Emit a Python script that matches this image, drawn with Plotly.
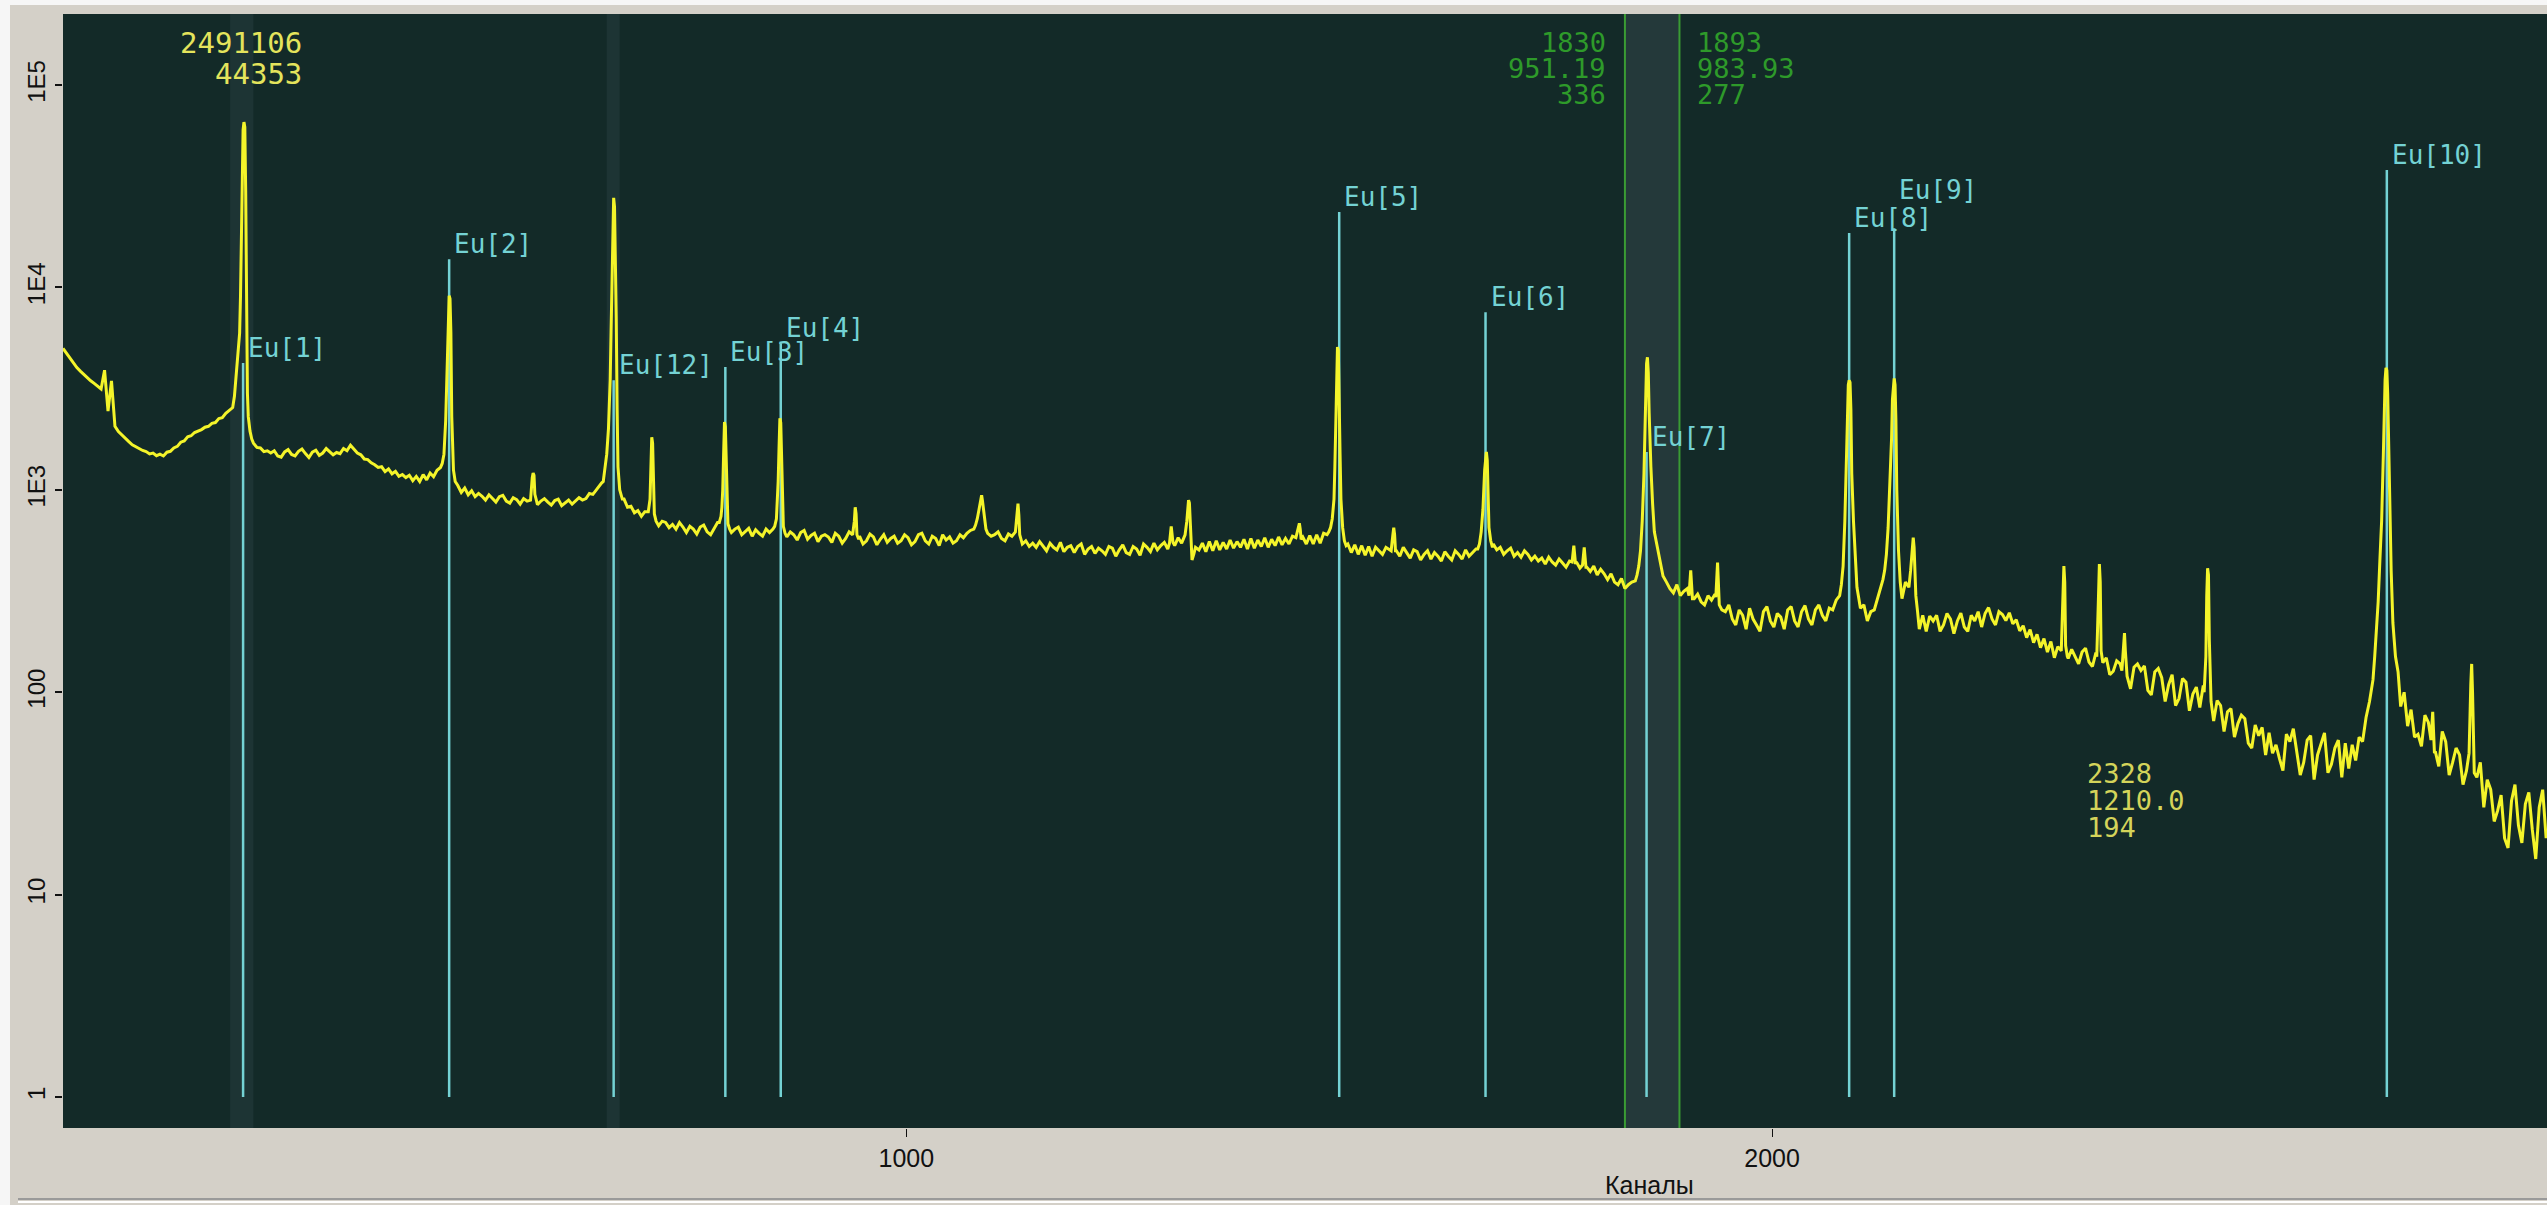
import math
import plotly.graph_objects as go

# ---------------- data ----------------
# continuum counts, every 4 channels, each row keyed by its first channel
cont_step = 4
continuum_rows = {
    26: [5000, 4720, 4460, 4230, 4020, 3860, 3710, 3570, 3460, 3360, 3260, 3150, 3900, 2450, 3450, 2060, 1940, 1860, 1790, 1730],
    106: [1670, 1630, 1600, 1565, 1545, 1505, 1520, 1475, 1500, 1470, 1535, 1550, 1610, 1640, 1720, 1745, 1830, 1850, 1920, 1950],
    186: [1985, 2040, 2060, 2130, 2150, 2250, 2270, 2390, 2460, 2550, 3600, 5950, 60000, 2300, 1950, 1710, 1620, 1610, 1545, 1560],
    266: [1520, 1560, 1470, 1450, 1540, 1580, 1495, 1470, 1550, 1590, 1510, 1445, 1535, 1570, 1480, 1520, 1600, 1545, 1490, 1530],
    346: [1510, 1600, 1560, 1660, 1580, 1520, 1490, 1420, 1410, 1360, 1330, 1290, 1300, 1230, 1270, 1200, 1235, 1165, 1190, 1150],
    426: [1180, 1110, 1165, 1100, 1190, 1120, 1210, 1160, 1250, 1290, 1500, 6000, 2000, 1150, 1050, 970, 1020, 945, 990, 925],
    506: [960, 930, 890, 945, 905, 870, 925, 940, 880, 860, 915, 895, 850, 905, 880, 920, 900, 845, 880, 905],
    586: [870, 840, 885, 900, 835, 865, 890, 850, 880, 915, 890, 905, 960, 950, 1000, 1060, 1100, 1500, 3500, 27000],
    666: [2500, 930, 900, 820, 830, 770, 790, 740, 780, 800, 1820, 720, 665, 700, 690, 650, 675, 640, 690, 655],
    746: [615, 660, 640, 605, 655, 670, 620, 600, 645, 690, 720, 2000, 670, 615, 640, 655, 600, 620, 645, 590],
    826: [635, 610, 590, 640, 615, 640, 700, 2200, 660, 585, 620, 600, 565, 615, 630, 570, 595, 610, 555, 590],
    906: [600, 585, 550, 610, 590, 545, 575, 620, 560, 800, 590, 540, 560, 605, 585, 535, 570, 600, 550, 575],
    986: [590, 545, 560, 600, 580, 535, 555, 600, 610, 560, 540, 590, 575, 530, 600, 565, 585, 545, 560, 600],
    1066: [580, 610, 630, 640, 700, 900, 700, 635, 590, 600, 620, 575, 560, 605, 590, 620, 800, 540, 560, 525],
    1146: [545, 520, 555, 530, 500, 545, 520, 505, 550, 495, 520, 530, 490, 525, 540, 480, 510, 525, 485, 515],
    1226: [500, 480, 525, 515, 470, 505, 535, 490, 480, 525, 510, 475, 540, 520, 495, 545, 505, 530, 550, 510],
    1306: [660, 530, 580, 545, 600, 890, 470, 520, 505, 545, 495, 555, 500, 560, 505, 550, 510, 565, 515, 555],
    1386: [520, 570, 510, 575, 515, 565, 525, 580, 520, 570, 530, 585, 535, 575, 540, 590, 580, 683, 585, 540],
    1466: [595, 540, 600, 545, 610, 600, 640, 900, 5070, 1500, 560, 540, 490, 535, 480, 530, 475, 525, 470, 520],
    1546: [500, 480, 520, 505, 650, 500, 470, 520, 490, 460, 505, 495, 450, 480, 500, 455, 490, 470, 445, 495],
    1626: [470, 450, 500, 480, 455, 505, 470, 490, 510, 520, 800, 1450, 560, 540, 505, 520, 480, 500, 515, 470],
    1706: [490, 465, 500, 480, 450, 470, 445, 460, 430, 465, 440, 425, 455, 435, 415, 445, 520, 440, 410, 510],
    1786: [415, 395, 420, 380, 405, 385, 360, 385, 350, 340, 365, 325, 340, 350, 355, 400, 700, 4300, 1700, 600],
    1866: [560, 450, 375, 350, 325, 310, 340, 300, 315, 325, 400, 290, 305, 280, 270, 300, 285, 305, 430, 255],
    1946: [250, 270, 230, 215, 255, 240, 205, 260, 230, 215, 200, 250, 265, 225, 210, 245, 235, 205, 255, 265],
    2026: [225, 210, 250, 268, 230, 215, 255, 270, 240, 225, 260, 255, 285, 300, 420, 1500, 3400, 700, 330, 260],
    2106: [270, 225, 250, 255, 290, 330, 400, 1000, 3300, 1000, 280, 300, 350, 540, 260, 240, 205, 240, 200, 238],
    2186: [225, 240, 200, 215, 245, 230, 195, 225, 246, 210, 200, 240, 225, 250, 210, 245, 262, 230, 215, 250],
    2266: [242, 226, 247, 218, 228, 201, 213, 186, 204, 176, 193, 166, 184, 158, 178, 148, 168, 152, 420, 147],
    2346: [163, 150, 138, 158, 165, 141, 134, 157, 430, 142, 148, 122, 127, 143, 138, 196, 118, 104, 133, 138],
    2426: [128, 135, 102, 97, 126, 131, 118, 90, 109, 122, 86, 93, 117, 112, 81, 98, 106, 84, 108, 410],
    2506: [95, 72, 91, 86, 64, 80, 83, 60, 70, 77, 74, 56, 53, 69, 61, 67, 49, 63, 50, 55],
    2586: [47, 41, 62, 57, 66, 52, 39, 45, 58, 61, 37, 49, 55, 63, 40, 44, 53, 58, 38, 56],
    2666: [42, 55, 46, 60, 57, 75, 90, 120, 180, 450, 3500, 3000, 400, 150, 110, 85, 100, 68, 82, 60],
    2746: [62, 54, 77, 71, 75, 51, 43, 64, 57, 39, 45, 53, 49, 35, 41, 120, 31, 38, 45, 27],
    2826: [37, 33, 23, 26, 31, 19, 17, 29, 35, 22, 18, 28, 32, 21, 15, 27, 33, 19],
}

# photopeaks (channel / counts), replace the continuum inside their window
peak_channels = [
    [222, 224, 226, 228, 230, 231, 232, 233, 234, 235, 236, 237, 238, 239, 240, 242, 244, 246],
    [462, 464, 466, 468, 470, 471, 472, 473, 474, 475, 476, 477, 479],
    [566, 568, 569, 570, 571, 573],
    [648, 650, 652, 654, 656, 658, 659, 660, 661, 662, 663, 664, 665, 666, 667, 669, 672],
    [702, 704, 705, 706, 707, 708, 709, 711],
    [784, 786, 787, 788, 789, 790, 791, 792, 793, 794, 796],
    [848, 850, 851, 852, 853, 854, 855, 856, 857, 858, 860],
    [938, 940, 941, 942, 943, 945],
    [1080, 1082, 1084, 1086, 1087, 1088, 1090, 1092, 1094],
    [1126, 1128, 1129, 1130, 1131, 1133],
    [1304, 1306, 1308],
    [1322, 1324, 1325, 1326, 1327, 1328, 1329, 1330, 1332],
    [1450, 1452, 1454, 1455, 1456],
    [1488, 1490, 1492, 1494, 1495, 1496, 1497, 1498, 1499, 1500, 1501, 1502, 1504, 1506, 1508],
    [1560, 1562, 1563, 1564, 1565],
    [1660, 1662, 1664, 1666, 1668, 1669, 1670, 1671, 1672, 1673, 1675, 1677],
    [1769, 1771, 1773],
    [1781, 1783, 1785],
    [1844, 1846, 1848, 1850, 1852, 1853, 1854, 1855, 1856, 1857, 1858, 1859, 1860, 1862, 1864],
    [1904, 1906, 1908],
    [1935, 1937, 1939],
    [2078, 2080, 2082, 2084, 2086, 2087, 2088, 2089, 2090, 2091, 2092, 2094, 2096, 2098],
    [2128, 2130, 2132, 2134, 2136, 2138, 2139, 2140, 2141, 2142, 2143, 2144, 2146, 2148, 2150],
    [2158, 2160, 2162, 2163, 2164, 2166, 2168],
    [2334, 2336, 2337, 2338, 2339, 2341],
    [2375, 2377, 2378, 2379, 2380, 2382],
    [2404, 2406, 2407, 2408, 2410],
    [2499, 2501, 2502, 2503, 2504, 2505, 2507],
    [2694, 2696, 2698, 2700, 2702, 2704, 2706, 2707, 2708, 2709, 2710, 2711, 2712, 2713, 2715, 2717, 2720, 2723],
    [2761, 2763, 2765],
    [2805, 2807, 2808, 2809, 2811],
]
peak_counts = [
    [2550, 2900, 3600, 4500, 5950, 9000, 18000, 34000, 60000, 65600, 62000, 30000, 7000, 3000, 2300, 1950, 1780, 1700],
    [1290, 1350, 1500, 2200, 4000, 6500, 9100, 8800, 6000, 2300, 1500, 1250, 1100],
    [890, 1150, 1210, 1180, 950, 880],
    [1080, 1100, 1250, 1500, 2000, 3500, 6000, 12000, 22000, 27700, 25000, 15000, 7000, 2500, 1300, 1000, 900],
    [780, 900, 1300, 1820, 1700, 1100, 760, 700],
    [690, 740, 820, 1000, 1500, 2160, 2050, 1300, 800, 680, 640],
    [660, 720, 850, 1100, 1600, 2260, 2150, 1400, 850, 660, 610],
    [600, 700, 820, 760, 600, 570],
    [670, 720, 800, 900, 940, 880, 720, 640, 610],
    [620, 800, 855, 750, 600, 560],
    [545, 660, 550],
    [600, 700, 820, 890, 860, 700, 480, 450, 480],
    [580, 640, 683, 640, 570],
    [620, 650, 720, 900, 1300, 2200, 3800, 5070, 4900, 3200, 1500, 900, 650, 560, 530],
    [500, 600, 650, 600, 500],
    [510, 540, 620, 800, 1250, 1450, 1540, 1400, 900, 650, 560, 520],
    [440, 530, 430],
    [425, 520, 415],
    [380, 420, 500, 700, 1200, 2000, 3200, 4200, 4520, 3800, 2400, 1700, 1300, 850, 620],
    [300, 400, 290],
    [295, 437, 270],
    [300, 340, 420, 700, 1500, 2400, 3300, 3480, 3400, 2500, 1200, 700, 450, 330],
    [360, 400, 480, 650, 1000, 1800, 2800, 3400, 3550, 3300, 2200, 1000, 500, 350, 290],
    [330, 400, 540, 580, 520, 300, 250],
    [160, 300, 420, 350, 170, 150],
    [150, 300, 430, 350, 160, 140],
    [128, 170, 196, 160, 120],
    [100, 150, 300, 410, 380, 180, 90],
    [115, 150, 200, 280, 450, 700, 1500, 2500, 3500, 4010, 3900, 3000, 1800, 900, 400, 220, 150, 126],
    [58, 80, 50],
    [50, 110, 138, 100, 40],
]

# nuclide library markers
marker_names = ["Eu[1]", "Eu[2]", "Eu[12]", "Eu[3]", "Eu[4]", "Eu[5]", "Eu[6]", "Eu[7]", "Eu[8]", "Eu[9]", "Eu[10]"]
marker_channels = [234, 472, 662, 791, 855, 1500, 1669, 1855, 2089, 2141, 2710]
marker_tops = [4230, 13800, 3480, 4040, 5300, 23600, 7550, 1540, 18600, 19600, 38000]
marker_label_lift = [0, 0, 0, 0, 0, 0, 0, 0, 0, 23, 0]   # px, label moved up to avoid overlap

roi_channels = [1830, 1893]
roi_left_info = ["1830", "951.19", "336"]
roi_right_info = ["1893", "983.93", "277"]
cursor_bands = [[219, 246], [654, 669]]
cursor_info = ["2491106", "44353"]
point_info = ["2328", "1210.0", "194"]

y_tick_vals = [1, 10, 100, 1000, 10000, 100000]
y_tick_text = ["1", "10", "100", "1E3", "1E4", "1E5"]
x_tick_vals = [1000, 2000]
x_tick_text = ["1000", "2000"]
x_title = "Каналы"

# ---------------- build spectrum ----------------
pts = {}
for start, row in continuum_rows.items():
    for i, v in enumerate(row):
        pts[start + cont_step * i] = v
for chs, cts in zip(peak_channels, peak_counts):
    lo, hi = min(chs), max(chs)
    for c in [c for c in pts if lo <= c <= hi]:
        del pts[c]
    for c, v in zip(chs, cts):
        pts[c] = v
spec_x = sorted(pts)
spec_y = [pts[c] for c in spec_x]

# ---------------- layout geometry ----------------
W, H = 2547, 1205
L, R, T, B = 63, 0, 14, 77
PW, PH = W - L - R, H - T - B


def px_x(x):
    return (x - L) / PW


def px_y(y):
    return 1 - (y - T) / PH


BG = "#132a28"
PANEL = "#d4d0c8"
YELLOW = "#f4f42a"
CYAN = "#74d2d4"
GREEN = "#3a9c34"
MONO = "DejaVu Sans Mono, Liberation Mono, monospace"
SANS = "Liberation Sans, Arial, sans-serif"

fig = go.Figure()

# marker lines (cyan) under the spectrum
mx, my = [], []
for ch, top in zip(marker_channels, marker_tops):
    mx += [ch, ch, None]
    my += [1, top, None]
fig.add_trace(go.Scatter(x=mx, y=my, mode="lines", line=dict(color=CYAN, width=2.5),
                         hoverinfo="skip", showlegend=False))

fig.add_trace(go.Scatter(x=spec_x, y=spec_y, mode="lines",
                         line=dict(color=YELLOW, width=3), showlegend=False))

shapes = []
for lo, hi in cursor_bands:
    shapes.append(dict(type="rect", xref="x", yref="paper", x0=lo, x1=hi, y0=0, y1=1,
                       fillcolor="#1d3434", line=dict(width=0), layer="below"))
shapes.append(dict(type="rect", xref="x", yref="paper", x0=roi_channels[0], x1=roi_channels[1],
                   y0=0, y1=1, fillcolor="#24393a", line=dict(width=0), layer="below"))
for ch in roi_channels:
    shapes.append(dict(type="line", xref="x", yref="paper", x0=ch, x1=ch, y0=0, y1=1,
                       line=dict(color=GREEN, width=2), layer="below"))
# window frame details outside the plot
shapes.append(dict(type="rect", xref="paper", yref="paper", x0=px_x(0), x1=px_x(10),
                   y0=px_y(H), y1=px_y(0), fillcolor="#f6f6f6", line=dict(width=0)))
shapes.append(dict(type="rect", xref="paper", yref="paper", x0=px_x(0), x1=px_x(W),
                   y0=px_y(5), y1=px_y(0), fillcolor="#f6f6f6", line=dict(width=0)))
shapes.append(dict(type="line", xref="paper", yref="paper", x0=px_x(18), x1=px_x(W),
                   y0=px_y(1199), y1=px_y(1199), line=dict(color="#9a9a9a", width=2)))
shapes.append(dict(type="line", xref="paper", yref="paper", x0=px_x(18), x1=px_x(W),
                   y0=px_y(1202), y1=px_y(1202), line=dict(color="#ffffff", width=2)))

annotations = []
for name, ch, top, lift in zip(marker_names, marker_channels, marker_tops, marker_label_lift):
    annotations.append(dict(x=ch, y=math.log10(top), xref="x", yref="y", text=name,
                            showarrow=False, xanchor="left", yanchor="bottom",
                            xshift=3, yshift=lift - 2,
                            font=dict(family=MONO, size=26, color=CYAN)))

for i, t in enumerate(roi_left_info):
    annotations.append(dict(x=roi_channels[0], y=px_y(42 + 26 * i), xref="x", yref="paper",
                            text=t, showarrow=False, xanchor="right", yanchor="middle",
                            xshift=-17, font=dict(family=MONO, size=27, color="#2e9a2a")))
for i, t in enumerate(roi_right_info):
    annotations.append(dict(x=roi_channels[1], y=px_y(42 + 26 * i), xref="x", yref="paper",
                            text=t, showarrow=False, xanchor="left", yanchor="middle",
                            xshift=16, font=dict(family=MONO, size=27, color="#2e9a2a")))

for i, t in enumerate(cursor_info):
    annotations.append(dict(x=px_x(304), y=px_y(43 + 31 * i), xref="paper", yref="paper",
                            text=t, showarrow=False, xanchor="right", yanchor="middle",
                            font=dict(family=MONO, size=29, color="#e4e45c")))

for i, t in enumerate(point_info):
    annotations.append(dict(x=px_x(2085), y=px_y(773 + 27 * i), xref="paper", yref="paper",
                            text=t, showarrow=False, xanchor="left", yanchor="middle",
                            font=dict(family=MONO, size=27, color="#d4d45a")))

annotations.append(dict(x=px_x(1650), y=px_y(1185), xref="paper", yref="paper", text=x_title,
                        showarrow=False, xanchor="center", yanchor="middle",
                        font=dict(family=SANS, size=25, color="#111111")))

fig.update_layout(
    width=W, height=H,
    margin=dict(l=L, r=R, t=T, b=B, pad=0),
    paper_bgcolor=PANEL, plot_bgcolor=BG,
    showlegend=False,
    shapes=shapes, annotations=annotations,
    xaxis=dict(range=[26, 2895], showgrid=False, zeroline=False, showline=False,
               tickmode="array", tickvals=x_tick_vals, ticktext=x_tick_text,
               ticks="outside", ticklen=8, tickwidth=1, tickcolor="#111111",
               tickfont=dict(family=SANS, size=25, color="#111111")),
    yaxis=dict(type="log", range=[-0.153, 5.351], showgrid=False, zeroline=False, showline=False,
               tickmode="array", tickvals=y_tick_vals, ticktext=y_tick_text, tickangle=-90,
               ticks="outside", ticklen=7, tickwidth=2, tickcolor="#111111",
               tickfont=dict(family=SANS, size=24, color="#111111")),
)

fig.write_html("out.html")
